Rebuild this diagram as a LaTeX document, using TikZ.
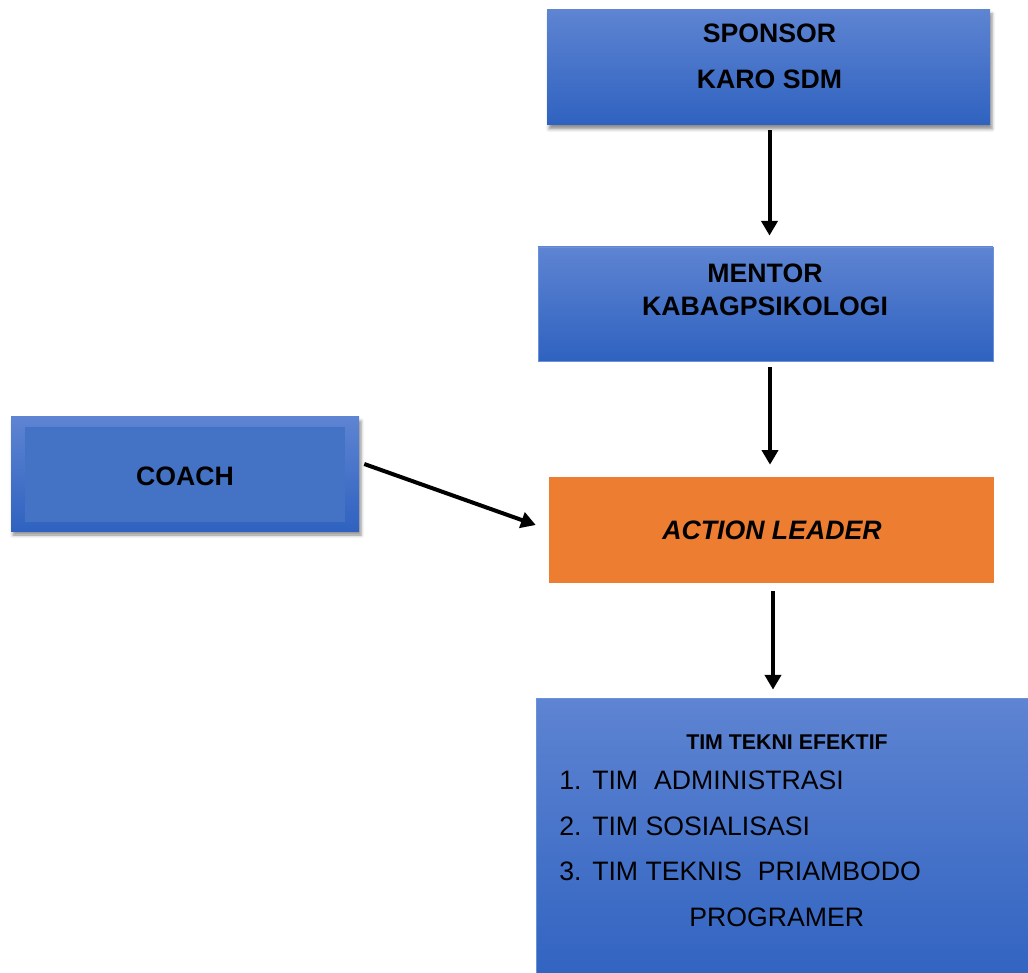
\documentclass[tikz,border=0pt]{standalone}
\usepackage{fontspec}
\setmainfont{Liberation Sans}
\usetikzlibrary{arrows.meta,fit,shadows.blur}

\definecolor{boxtop}{HTML}{5E84D2}
\definecolor{boxbot}{HTML}{2F62C0}
\definecolor{coachin}{HTML}{4472C4}
\definecolor{boxline}{HTML}{6A92DA}
\definecolor{leader}{HTML}{ED7D31}

\tikzset{
  blok/.style={inner sep=0pt, top color=boxtop, bottom color=boxbot},
  bayang/.style={blur shadow={shadow xshift=1.5pt, shadow yshift=-3pt,
      shadow blur radius=2.5pt, shadow opacity=45}},
  judul/.style={font=\fontsize{20}{24}\bfseries\selectfont, inner sep=0pt},
  isi/.style={font=\fontsize{20}{24}\selectfont, inner sep=0pt},
  arr/.style={line width=3pt, -{Triangle[width=12pt,length=11pt]}}
}

\begin{document}
\begin{tikzpicture}[x=0.75pt,y=-0.75pt]
\useasboundingbox (0,0) rectangle (1028,973);
\clip (0,0) rectangle (1028,973);

% kotak
\node[blok, bayang, fit={(547,10)(990,125)}] (sponsor) {};
\node[blok, draw=boxline, line width=0.6pt, fit={(538,247)(993,361)}] (mentor) {};
\node[blok, bayang, fit={(11,417)(359,531)},
  path picture={\fill[coachin] ([shift={(14,10)}]path picture bounding box.north west)
    rectangle ([shift={(-14,-9)}]path picture bounding box.south east);}] (coach) {};
\node[inner sep=0pt, fill=leader, fit={(549,477)(994,583)}] (action) {};
\node[blok, draw=boxline, line width=0.6pt, fit={(536,698)(1045,990)}] (tim) {};

% teks
\node[judul, anchor=base] (sponsorA) at (769.5,43) {SPONSOR};
\node[judul, anchor=base] (sponsorB) at (769.5,89) {KARO SDM};
\node[judul, anchor=base] (mentorA) at (765,283) {MENTOR};
\node[judul, anchor=base] (mentorB) at (765,316) {KABAGPSIKOLOGI};
\node[judul, anchor=base] (coachA) at (185,485) {COACH};
\node[judul, anchor=base] (actionA) at (772,539) {\itshape ACTION LEADER};
\node[inner sep=0pt, font=\fontsize{16}{19}\bfseries\selectfont, anchor=base] (timA) at (787,749) {TIM TEKNI EFEKTIF};
\node[isi, anchor=base west] (tim1) at (559,789) {\makebox[24.75pt][l]{1.}TIM\hspace{0.6em}ADMINISTRASI};
\node[isi, anchor=base west] (tim2) at (559,835) {\makebox[24.75pt][l]{2.}TIM SOSIALISASI};
\node[isi, anchor=base west] (tim3) at (559,880) {\makebox[24.75pt][l]{3.}TIM TEKNIS\hspace{0.6em}PRIAMBODO};
\node[isi, anchor=base west] (tim4) at (689,926) {PROGRAMER};

% panah
\draw[arr] ([shift={(1,5)}]sponsor.south) -- ([shift={(1,-11)}]sponsor.south |- mentor.north);
\draw[arr] ([shift={(-1.5,6)}]action.north |- mentor.south) -- ([shift={(-1.5,-12)}]action.north);
\draw[arr] ([shift={(1.5,8)}]action.south) -- ([shift={(1.5,-8)}]action.south |- tim.north);
\draw[arr] ([shift={(5,-10)}]coach.east) -- ([shift={(-13,-5)}]action.west);
\end{tikzpicture}
\end{document}
